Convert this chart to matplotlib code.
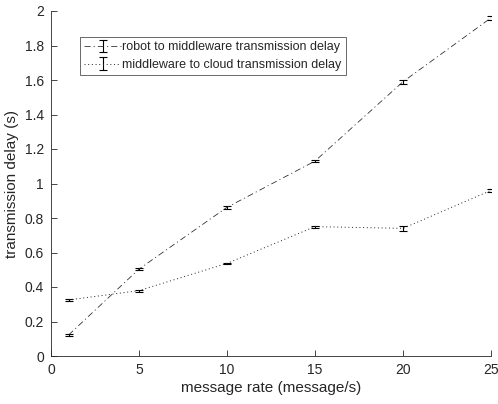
import matplotlib
matplotlib.use("Agg")
import matplotlib.pyplot as plt

plt.rcParams['font.family'] = ['Liberation Sans', 'DejaVu Sans']

rates = [1, 5, 10, 15, 20, 25]
robot_mw = [0.122, 0.504, 0.862, 1.13, 1.59, 1.96]
robot_mw_err = [0.005, 0.005, 0.008, 0.005, 0.012, 0.012]
mw_cloud = [0.325, 0.379, 0.537, 0.75, 0.74, 0.96]
mw_cloud_err = [0.004, 0.006, 0.004, 0.006, 0.015, 0.01]
labels = ['robot to middleware transmission delay', 'middleware to cloud transmission delay']
xticks = [0, 5, 10, 15, 20, 25]
yticks = [0, 0.2, 0.4, 0.6, 0.8, 1, 1.2, 1.4, 1.6, 1.8, 2]

fig = plt.figure(figsize=(4.98, 4.04), dpi=100)
ax = fig.add_axes([51/498, 1 - 356/404, 440/498, 345/404])

tc = '#262626'
ax.errorbar(rates, robot_mw, yerr=robot_mw_err, color='#222222', linestyle=(0, (8, 4, 1.5, 4)),
            linewidth=0.55, capsize=3, elinewidth=0.8, capthick=0.8, ecolor='black', label=labels[0])
ax.errorbar(rates, mw_cloud, yerr=mw_cloud_err, color='#222222', linestyle=(0, (1, 2.8)),
            linewidth=0.7, capsize=3, elinewidth=0.8, capthick=0.8, ecolor='black', label=labels[1])

ax.set_xlim(0, 25)
ax.set_ylim(0, 2)
ax.set_xticks(xticks)
ax.set_xticklabels([str(v) for v in xticks])
ax.set_yticks(yticks)
ax.set_yticklabels(['0', '0.2', '0.4', '0.6', '0.8', '1', '1.2', '1.4', '1.6', '1.8', '2'])
for s in ['top', 'right']:
    ax.spines[s].set_visible(False)
for s in ['left', 'bottom']:
    ax.spines[s].set_color(tc)
    ax.spines[s].set_linewidth(0.6)
ax.tick_params(direction='in', length=4, width=0.6, colors=tc, labelsize=10, pad=5)
ax.set_xlabel('message rate (message/s)', fontsize=11, color=tc, labelpad=3)
ax.set_ylabel('transmission delay (s)', fontsize=11, color=tc, labelpad=4)

leg = ax.legend(loc='upper left', bbox_to_anchor=(29/440, 1 - 26/345), fontsize=9,
                frameon=True, fancybox=False, handlelength=2.9, borderpad=0.35,
                labelspacing=0.45, handletextpad=0.15, borderaxespad=0)
leg.get_frame().set_edgecolor(tc)
leg.get_frame().set_linewidth(0.6)
for t in leg.get_texts():
    t.set_color(tc)

fig.savefig('out.png', dpi=100)
